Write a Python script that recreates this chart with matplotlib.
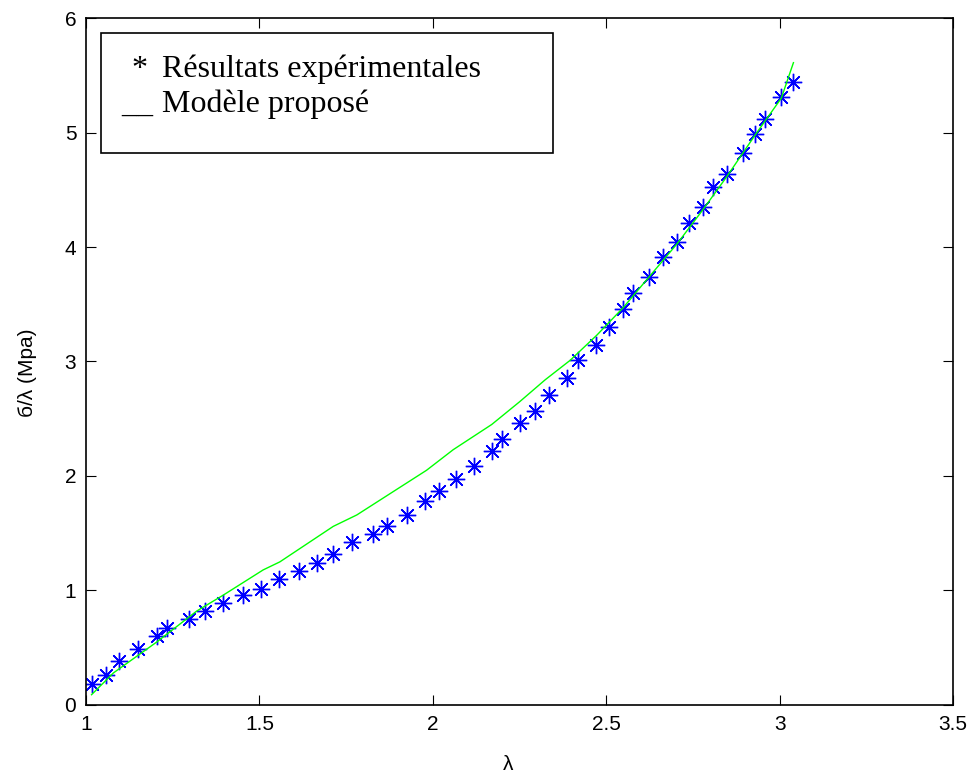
import numpy as np
import matplotlib
matplotlib.use('Agg')
import matplotlib.pyplot as plt
from matplotlib.patches import Rectangle

matplotlib.rcParams['font.family'] = ['Liberation Sans', 'DejaVu Sans']

# experimental points
lam_exp = [1.016, 1.058, 1.096, 1.149, 1.204, 1.234, 1.298, 1.344, 1.396, 1.454,
           1.505, 1.557, 1.614, 1.667, 1.713, 1.766, 1.828, 1.869, 1.926, 1.978,
           2.019, 2.066, 2.118, 2.170, 2.199, 2.251, 2.296, 2.336, 2.388, 2.418,
           2.470, 2.508, 2.549, 2.578, 2.624, 2.665, 2.705, 2.740, 2.780, 2.809,
           2.849, 2.895, 2.930, 2.959, 3.005, 3.040]
sig_exp = [0.18, 0.26, 0.38, 0.49, 0.60, 0.67, 0.75, 0.82, 0.89, 0.96,
           1.01, 1.10, 1.17, 1.24, 1.32, 1.42, 1.49, 1.56, 1.66, 1.78,
           1.87, 1.97, 2.09, 2.22, 2.32, 2.46, 2.57, 2.71, 2.86, 3.01,
           3.14, 3.30, 3.46, 3.60, 3.74, 3.91, 4.04, 4.21, 4.35, 4.52,
           4.64, 4.82, 4.99, 5.12, 5.31, 5.44]

# model curve
lam_mod = [1.016, 1.079, 1.204, 1.319, 1.396, 1.511, 1.559, 1.713, 1.781, 1.848,
           1.982, 2.059, 2.170, 2.251, 2.324, 2.396, 2.473, 2.549, 2.624, 2.705,
           2.780, 2.849, 2.930, 3.005, 3.040]
sig_mod = [0.09, 0.28, 0.55, 0.82, 0.96, 1.18, 1.25, 1.56, 1.66, 1.79,
           2.05, 2.23, 2.45, 2.65, 2.84, 3.01, 3.23, 3.47, 3.74, 4.03,
           4.33, 4.62, 4.98, 5.30, 5.61]

fig = plt.figure(figsize=(9.74, 7.76), dpi=100)
ax = fig.add_axes([0.0883, 0.0915, 0.8901, 0.8853])

ax.plot(lam_exp, sig_exp, ls='none', marker=(8, 2, 0), ms=12.5, mew=1.0,
        mec='#0000ff', mfc='#0000ff')
ax.plot(lam_mod, sig_mod, c='#00ff00', lw=1)

ax.set_xlim(1, 3.5)
ax.set_ylim(0, 6)
ax.set_xticks([1, 1.5, 2, 2.5, 3, 3.5])
ax.set_xticklabels(['1', '1.5', '2', '2.5', '3', '3.5'])
ax.set_yticks([0, 1, 2, 3, 4, 5, 6])
ax.tick_params(direction='in', top=True, right=True, length=7, labelsize=15, pad=7)
for s in ax.spines.values():
    s.set_linewidth(1.2)

ax.set_xlabel('λ', fontsize=15)
ax.set_ylabel('б/λ (Mpa)', fontsize=15)
ax.xaxis.set_label_coords(0.487, -0.073)
ax.yaxis.set_label_coords(-0.0565, 0.483)

# legend drawn as a text box
ax.add_patch(Rectangle((0.017, 0.804), 0.5216, 0.1746, transform=ax.transAxes,
                       fill=False, ec='k', lw=1.2, zorder=5))
tf = dict(transform=ax.transAxes, family='Liberation Serif', fontsize=23,
          va='baseline', zorder=6)
ax.text(0.0527, 0.914, '*', **tf)
ax.text(0.0873, 0.914, 'Résultats expérimentales', **tf)
ax.text(0.0412, 0.8636, '__', **tf)
ax.text(0.0873, 0.8636, 'Modèle proposé', **tf)

fig.savefig('out.png', dpi=100)
